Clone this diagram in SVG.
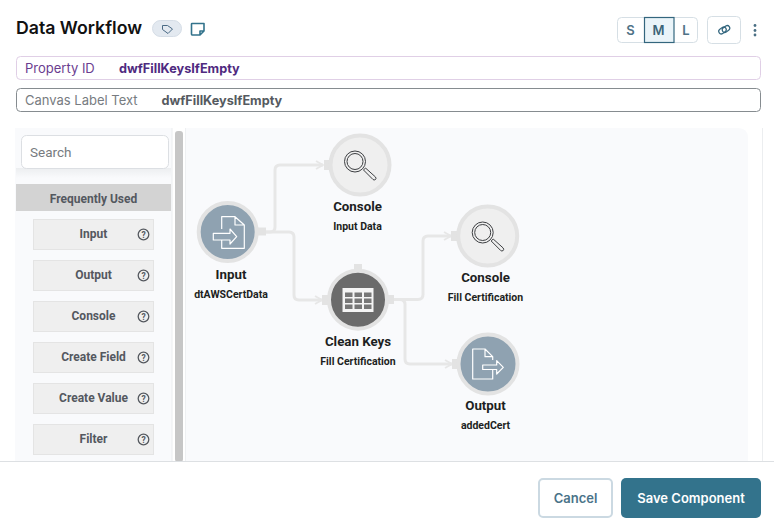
<svg xmlns="http://www.w3.org/2000/svg" width="774" height="527" viewBox="0 0 774 527">
<style>
text{font-family:Inter,"Liberation Sans",sans-serif}
.r{font-family:Roboto,"Liberation Sans",sans-serif}
.side{font-family:Roboto,"Liberation Sans",sans-serif;font-size:12px;font-weight:700;fill:#54585f;text-anchor:middle}
.item{fill:#efefef;stroke:#e4e4e4}
.q{fill:none;stroke:#55595f;stroke-width:1.300}
.qt{font-family:Roboto,"Liberation Sans",sans-serif;font-size:8.500px;font-weight:700;fill:#55595f;text-anchor:middle}
.nt{font-family:Roboto,"Liberation Sans",sans-serif;font-size:13.300px;font-weight:700;fill:#1d1f22;text-anchor:middle}
.ns{font-family:Roboto,"Liberation Sans",sans-serif;font-size:10.500px;font-weight:700;fill:#1d1f22;text-anchor:middle}
.conn{fill:none;stroke:#e7e7e7;stroke-width:3}
.ring{stroke:#e3e3e3;stroke-width:4}
.port{fill:#e3e3e3}
.ic{fill:none;stroke:#fff;stroke-width:1.200;stroke-linejoin:round}
.ics{fill:none;stroke:#3d3f42;stroke-width:1}
</style>
<defs>
<marker id="arr" markerWidth="10" markerHeight="10" refX="8" refY="5" orient="auto" markerUnits="userSpaceOnUse"><path d="M1 1L8 5L1 9" fill="none" stroke="#e7e7e7" stroke-width="1.800"/></marker>
<linearGradient id="sh" x1="0" y1="0" x2="0" y2="1"><stop offset="0" stop-color="#eceef0"/><stop offset="1" stop-color="#f9fafc"/></linearGradient>
<g id="search"><circle cx="-5" cy="-3.500" r="10.500" class="ics"/><circle cx="-5" cy="-3.500" r="8" class="ics"/><path d="M3.500 5L5.500 3L15.500 12Q16.500 13.500 15.500 14.500Q14 15.500 13 14.500Z" class="ics" stroke-linejoin="round"/></g>
</defs>
<rect width="774" height="527" fill="#fff"/>
<g id="header">
<text x="16" y="34" font-size="17.700" font-weight="600" fill="#111">Data Workflow</text>
<rect x="152.500" y="20.500" width="29" height="16" rx="8" fill="#e3e9f0" stroke="#d5dde6"/>
<path d="M162.500 25.500H167.500L172.500 29L168 33.500L162.500 29.500Z" fill="none" stroke="#4a6a85" stroke-width="1"/>
<path d="M192 23.500H204V31L200 35H192Q191.500 35 191.500 34V24Q191.500 23.500 192 23.500ZM204 31H200V35" fill="none" stroke="#33738c" stroke-width="1.600" stroke-linejoin="round"/>
<rect x="617.500" y="17.500" width="80" height="25" rx="4" fill="#fff" stroke="#d6dfe5"/>
<rect x="644.500" y="17.500" width="29.500" height="25" fill="#eaf4f9" stroke="#33667e" stroke-width="1.200"/>
<text x="630.500" y="35" font-size="13" font-weight="600" fill="#4f7286" text-anchor="middle">S</text>
<text x="658.500" y="35" font-size="13" font-weight="600" fill="#3c6478" text-anchor="middle">M</text>
<text x="686" y="35" font-size="13" font-weight="600" fill="#4f7286" text-anchor="middle">L</text>
<rect x="707.500" y="16.500" width="33" height="27" rx="4" fill="#fff" stroke="#d6dfe5"/>
<g fill="none" stroke="#33667e" stroke-width="1.200"><rect x="718.500" y="28" width="8" height="5" rx="2.500" transform="rotate(-35 722.500 30.500)"/><rect x="722" y="26.500" width="8" height="5" rx="2.500" transform="rotate(-35 726 29)"/></g>
<g fill="#4a6f84"><circle cx="755" cy="25.500" r="1.400"/><circle cx="755" cy="30.500" r="1.400"/><circle cx="755" cy="35" r="1.400"/></g>
<rect x="16.500" y="56.500" width="744" height="23" rx="4" fill="#fff" stroke="#e0cfe6"/>
<text x="25" y="73" font-size="13" fill="#6a3d8f">Property ID</text>
<text x="119" y="73" font-size="12.700" font-weight="700" fill="#4f2a80">dwfFillKeysIfEmpty</text>
<rect x="16.500" y="88.500" width="744" height="23" rx="4" fill="#fff" stroke="#868c90"/>
<text x="25" y="105" font-size="13" fill="#777c81">Canvas Label Text</text>
<text x="161.500" y="105" font-size="12.700" font-weight="700" fill="#555a60">dwfFillKeysIfEmpty</text>
</g>
<g id="sidebar">
<rect x="15" y="128" width="157" height="334" fill="#f9fafc"/>
<rect x="171.500" y="128" width="1" height="334" fill="#eceef0"/>
<rect x="16" y="168" width="155" height="10" fill="url(#sh)"/>
<rect x="21.500" y="135.500" width="147" height="33" rx="5" fill="#fff" stroke="#dcdfe3"/>
<text x="30" y="157" class="r" font-size="13.500" fill="#777b80">Search</text>
<rect x="16" y="184" width="155" height="27" fill="#d3d3d3"/>
<text x="93.500" y="203" class="side">Frequently Used</text>
<rect x="175" y="131" width="8" height="331" rx="3" fill="#c6c6c6"/>
<rect x="185" y="128" width="1" height="334" fill="#eef0f2"/>
</g>
<g id="palette">
<rect x="33.500" y="219.500" width="120" height="30" class="item"/><text x="93.500" y="238" class="side">Input</text><circle cx="143.500" cy="234.500" r="5.300" class="q"/><text x="143.500" y="237.500" class="qt">?</text>
<rect x="33.500" y="260.500" width="120" height="30" class="item"/><text x="93.500" y="279" class="side">Output</text><circle cx="143.500" cy="275.500" r="5.300" class="q"/><text x="143.500" y="278.500" class="qt">?</text>
<rect x="33.500" y="301.500" width="120" height="30" class="item"/><text x="93.500" y="320" class="side">Console</text><circle cx="143.500" cy="316.500" r="5.300" class="q"/><text x="143.500" y="319.500" class="qt">?</text>
<rect x="33.500" y="342.500" width="120" height="30" class="item"/><text x="93.500" y="361" class="side">Create Field</text><circle cx="143.500" cy="357.500" r="5.300" class="q"/><text x="143.500" y="360.500" class="qt">?</text>
<rect x="33.500" y="383.500" width="120" height="30" class="item"/><text x="93.500" y="402" class="side">Create Value</text><circle cx="143.500" cy="398.500" r="5.300" class="q"/><text x="143.500" y="401.500" class="qt">?</text>
<rect x="33.500" y="424.500" width="120" height="30" class="item"/><text x="93.500" y="443" class="side">Filter</text><circle cx="143.500" cy="439.500" r="5.300" class="q"/><text x="143.500" y="442.500" class="qt">?</text>
</g>
<g id="canvas">
<path d="M186 128H738Q748 128 748 138V462H186Z" fill="#f9fafc"/>
<rect x="762" y="128" width="1" height="334" fill="#eceef0"/>
</g>
<g id="connectors">
<path class="conn" marker-end="url(#arr)" d="M262 232H270Q275 232 275 227V170Q275 165 280 165H323"/>
<path class="conn" marker-end="url(#arr)" d="M262 232H289Q294 232 294 237V295Q294 300 299 300H322"/>
<path class="conn" marker-end="url(#arr)" d="M392 299.500H418Q423 299.500 423 294.500V241Q423 236 428 236H451"/>
<path class="conn" marker-end="url(#arr)" d="M392 299.500H400Q405 299.500 405 304.500V359Q405 364 410 364H452"/>
</g>
<g id="node-input">
<rect x="257" y="227.500" width="9" height="8" class="port"/>
<circle cx="227.700" cy="232" r="29" fill="#8fa2b1" class="ring"/>
<path class="ic" d="M221.700 229V216.700H235L244.300 225V248.300H221.700V240M235 216.700V225H244.300M213.300 233.300H230V229L236.700 236.700L230 244V240H213.300Z"/>
<text x="231" y="279" class="nt">Input</text><text x="231" y="298" class="ns">dtAWSCertData</text>
</g>
<g id="node-console-1">
<rect x="324" y="160" width="7" height="10" class="port"/>
<circle cx="360" cy="165" r="29.500" fill="#efefef" class="ring"/>
<use href="#search" x="360" y="165"/>
<text x="357.500" y="211" class="nt">Console</text><text x="357.500" y="230" class="ns">Input Data</text>
</g>
<g id="node-clean-keys">
<rect x="354" y="264" width="8" height="7" class="port"/><rect x="322" y="295" width="7" height="10" class="port"/><rect x="387" y="295" width="7" height="9" class="port"/>
<circle cx="358" cy="299.700" r="29" fill="#6b6b6b" class="ring"/>
<rect x="342.500" y="288" width="31" height="24" fill="#f4f4f4"/>
<g fill="#777"><rect x="345" y="292.500" width="7.500" height="4.500"/><rect x="354.500" y="292.500" width="7.500" height="4.500"/><rect x="364" y="292.500" width="7.500" height="4.500"/><rect x="345" y="298.500" width="7.500" height="4.500"/><rect x="354.500" y="298.500" width="7.500" height="4.500"/><rect x="364" y="298.500" width="7.500" height="4.500"/><rect x="345" y="304.500" width="7.500" height="4.500"/><rect x="354.500" y="304.500" width="7.500" height="4.500"/><rect x="364" y="304.500" width="7.500" height="4.500"/></g>
<text x="358" y="346" class="nt">Clean Keys</text><text x="358" y="365" class="ns">Fill Certification</text>
</g>
<g id="node-console-2">
<rect x="451" y="231" width="7" height="10" class="port"/>
<circle cx="487.700" cy="236" r="29.500" fill="#efefef" class="ring"/>
<use href="#search" x="487.700" y="236"/>
<text x="485.500" y="282" class="nt">Console</text><text x="485.500" y="301" class="ns">Fill Certification</text>
</g>
<g id="node-output">
<rect x="452" y="359" width="7" height="10" class="port"/>
<circle cx="488" cy="364" r="29.500" fill="#8fa2b1" class="ring"/>
<path class="ic" d="M492.700 360V356.700L485 349H472.700V379H492.700V370M485 349V356.700H492.700M482.700 365H496.700V360.700L503.300 367.300L496.700 374V369.500H482.700Z"/>
<text x="485.500" y="410" class="nt">Output</text><text x="485.500" y="429" class="ns">addedCert</text>
</g>
<g id="footer">
<rect x="0" y="461" width="774" height="66" fill="#fff"/>
<rect x="0" y="461" width="774" height="1" fill="#dde0e3"/>
<rect x="539" y="479" width="73" height="38" rx="4" fill="#fff" stroke="#cbd9e2" stroke-width="2"/>
<text x="575.500" y="503" font-size="13" font-weight="600" fill="#4a7389" text-anchor="middle">Cancel</text>
<rect x="621" y="478" width="140" height="40" rx="5" fill="#33738c"/>
<text x="691" y="503" font-size="13" font-weight="600" fill="#fff" text-anchor="middle">Save Component</text>
</g>
</svg>
